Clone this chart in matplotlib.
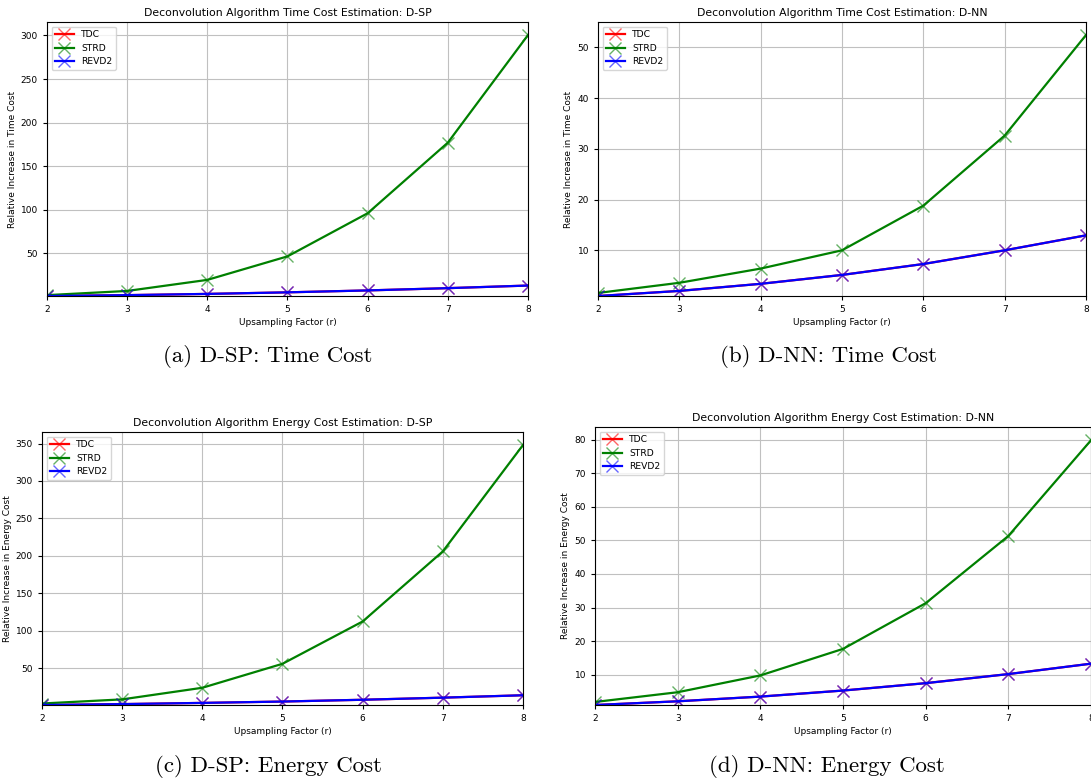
import matplotlib.pyplot as plt

# Upsampling factors
r = [2, 3, 4, 5, 6, 7, 8]

# (a) D-SP time cost
sp_time_tdc = [1.0, 2.0, 3.4, 5.2, 7.4, 10.0, 13.0]
sp_time_strd = [2.0, 6.8, 19.5, 46.5, 96.0, 177.0, 300.5]
sp_time_revd2 = [1.0, 2.0, 3.4, 5.2, 7.4, 10.0, 13.0]

# (b) D-NN time cost
nn_time_tdc = [1.0, 2.0, 3.4, 5.15, 7.3, 10.0, 12.95]
nn_time_strd = [1.6, 3.6, 6.4, 10.0, 18.8, 32.6, 52.4]
nn_time_revd2 = [1.0, 2.0, 3.4, 5.15, 7.3, 10.0, 12.95]

# (c) D-SP energy cost
sp_energy_tdc = [1.0, 2.2, 3.8, 5.6, 8.0, 10.8, 14.0]
sp_energy_strd = [3.0, 8.5, 24.0, 56.0, 112.5, 206.0, 348.0]
sp_energy_revd2 = [1.0, 2.2, 3.8, 5.6, 8.0, 10.8, 14.0]

# (d) D-NN energy cost
nn_energy_tdc = [1.0, 2.1, 3.5, 5.3, 7.5, 10.2, 13.3]
nn_energy_strd = [1.9, 4.8, 9.8, 17.7, 31.3, 51.3, 79.8]
nn_energy_revd2 = [1.0, 2.1, 3.5, 5.3, 7.5, 10.2, 13.3]

W, H = 1091, 779
fig = plt.figure(figsize=(W / 100, H / 100), dpi=100)


def px_rect(left, top, right, bottom):
    return [left / W, 1 - bottom / H, (right - left) / W, (bottom - top) / H]


def draw(rect, tdc, strd, revd2, title, ylabel):
    ax = fig.add_axes(rect)
    for vals, col, name in [(tdc, (1, 0, 0), 'TDC'), (strd, (0, 0.5, 0), 'STRD'),
                            (revd2, (0, 0, 1), 'REVD2')]:
        ax.plot(r, vals, 'x-', color=col, label=name, lw=1.6, ms=9, mew=1,
                mec=col + (0.6,))
    ax.set_xlim(2, 8)
    lo = min(tdc + strd + revd2)
    hi = max(tdc + strd + revd2)
    ax.set_ylim(lo, hi + 0.05 * (hi - lo))
    ax.grid(True, color='#c0c0c0', lw=0.8)
    ax.set_title(title, fontsize=7.8, pad=4)
    ax.set_xlabel('Upsampling Factor (r)', fontsize=6.5, labelpad=3)
    ax.set_ylabel(ylabel, fontsize=6.5, labelpad=3)
    ax.tick_params(labelsize=6.5, length=3)
    ax.legend(loc='upper left', fontsize=6.6)
    return ax


draw(px_rect(47, 22, 528, 296), sp_time_tdc, sp_time_strd, sp_time_revd2,
     'Deconvolution Algorithm Time Cost Estimation: D-SP', 'Relative Increase in Time Cost')
draw(px_rect(598, 22, 1086, 296), nn_time_tdc, nn_time_strd, nn_time_revd2,
     'Deconvolution Algorithm Time Cost Estimation: D-NN', 'Relative Increase in Time Cost')
draw(px_rect(42, 432, 523, 705), sp_energy_tdc, sp_energy_strd, sp_energy_revd2,
     'Deconvolution Algorithm Energy Cost Estimation: D-SP', 'Relative Increase in Energy Cost')
draw(px_rect(595, 427, 1091, 705), nn_energy_tdc, nn_energy_strd, nn_energy_revd2,
     'Deconvolution Algorithm Energy Cost Estimation: D-NN', 'Relative Increase in Energy Cost')

# sub-figure captions
cap_font = dict(fontsize=16.5, family=['cmr10', 'DejaVu Serif'], ha='center', va='center')
fig.text(268 / W, 1 - 357 / H, '(a) D-SP: Time Cost', **cap_font)
fig.text(828 / W, 1 - 357 / H, '(b) D-NN: Time Cost', **cap_font)
fig.text(268 / W, 1 - 766 / H, '(c) D-SP: Energy Cost', **cap_font)
fig.text(827 / W, 1 - 766 / H, '(d) D-NN: Energy Cost', **cap_font)

fig.savefig('out.png', dpi=100)
